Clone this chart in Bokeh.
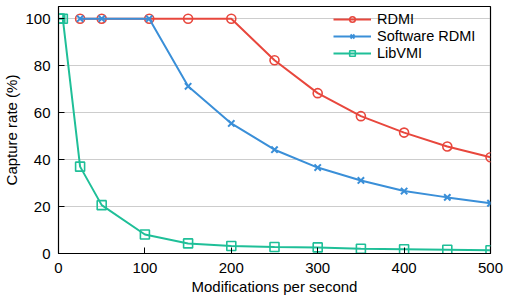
from bokeh.plotting import figure
from bokeh.models import Range1d, FixedTicker, Legend, LegendItem
from bokeh.embed import file_html
from bokeh.resources import INLINE

# Data
rdmi_x = [25, 50, 105, 150, 200, 250, 300, 350, 400, 450, 500]
rdmi_y = [100, 100, 100, 100, 100, 82.3, 68.3, 58.5, 51.5, 45.6, 41.0]

soft_x = [25, 50, 105, 150, 200, 250, 300, 350, 400, 450, 500]
soft_y = [100, 100, 100, 71.2, 55.4, 44.2, 36.6, 31.1, 26.6, 23.9, 21.4]

libvmi_x = [0, 1, 2, 5, 25, 50, 100, 150, 200, 250, 300, 350, 400, 450, 500]
libvmi_y = [100, 100, 100, 100, 37.0, 20.6, 8.1, 4.3, 3.2, 2.8, 2.6, 2.0, 1.8, 1.6, 1.4]

x_ticks = [0, 100, 200, 300, 400, 500]
y_ticks = [0, 20, 40, 60, 80, 100]

RED = "#e8473d"
BLUE = "#3a8fd8"
GREEN = "#1fbf98"
FONT = "Liberation Sans"

p = figure(width=506, height=302, output_backend="svg", toolbar_location=None,
           x_range=Range1d(0, 500), y_range=Range1d(0, 105.2),
           min_border_left=58, min_border_right=16, min_border_top=6, min_border_bottom=49)

p.outline_line_color = "black"
p.outline_line_width = 1.2
p.background_fill_color = "white"

# Grid
p.xgrid.grid_line_color = None
p.ygrid.grid_line_color = "#9a9a9a"
p.ygrid.grid_line_dash = "1 1"
p.ygrid.grid_line_width = 1
p.ygrid.ticker = FixedTicker(ticks=y_ticks)

# Axes
for ax in (p.xaxis[0], p.yaxis[0]):
    ax.major_tick_in = 6
    ax.major_tick_out = 0
    ax.minor_tick_in = 0
    ax.minor_tick_out = 0
    ax.axis_line_color = "black"
    ax.major_label_text_font = FONT
    ax.major_label_text_font_size = "15px"
    ax.major_label_text_color = "black"
    ax.axis_label_text_font = FONT
    ax.axis_label_text_font_size = "15px"
    ax.axis_label_text_font_style = "normal"
    ax.axis_label_text_color = "black"

p.xaxis[0].ticker = FixedTicker(ticks=x_ticks)
p.yaxis[0].ticker = FixedTicker(ticks=y_ticks)
p.xaxis[0].axis_label = "Modifications per second"
p.yaxis[0].axis_label = "Capture rate (%)"
p.xaxis[0].major_label_standoff = 9
p.yaxis[0].major_label_standoff = 8
p.xaxis[0].axis_label_standoff = 2
p.yaxis[0].axis_label_standoff = 2

# Series
r1l = p.line(rdmi_x, rdmi_y, line_color=RED, line_width=2)
r1m = p.scatter(rdmi_x, rdmi_y, marker="circle", size=9, line_color=RED,
                fill_color=None, line_width=1.6)
r2l = p.line(soft_x, soft_y, line_color=BLUE, line_width=2)
r2m = p.scatter(soft_x, soft_y, marker="x", size=9, line_color=BLUE, line_width=2)
r3l = p.line(libvmi_x, libvmi_y, line_color=GREEN, line_width=2)
r3m = p.scatter(libvmi_x, libvmi_y, marker="square", size=9, line_color=GREEN,
                fill_color=None, line_width=1.6)

legend = Legend(items=[
    LegendItem(label="RDMI", renderers=[r1l, r1m]),
    LegendItem(label="Software RDMI", renderers=[r2l, r2m]),
    LegendItem(label="LibVMI", renderers=[r3l, r3m]),
], location=(270, 187))
legend.label_text_font = FONT
legend.label_text_font_size = "14.5px"
legend.label_text_color = "black"
legend.glyph_width = 38
legend.glyph_height = 14
legend.label_height = 14
legend.label_standoff = 6
legend.spacing = 1
legend.padding = 5
legend.margin = 0
legend.background_fill_alpha = 0
legend.border_line_alpha = 0
p.add_layout(legend)

open("out.html", "w").write(file_html(p, INLINE))
